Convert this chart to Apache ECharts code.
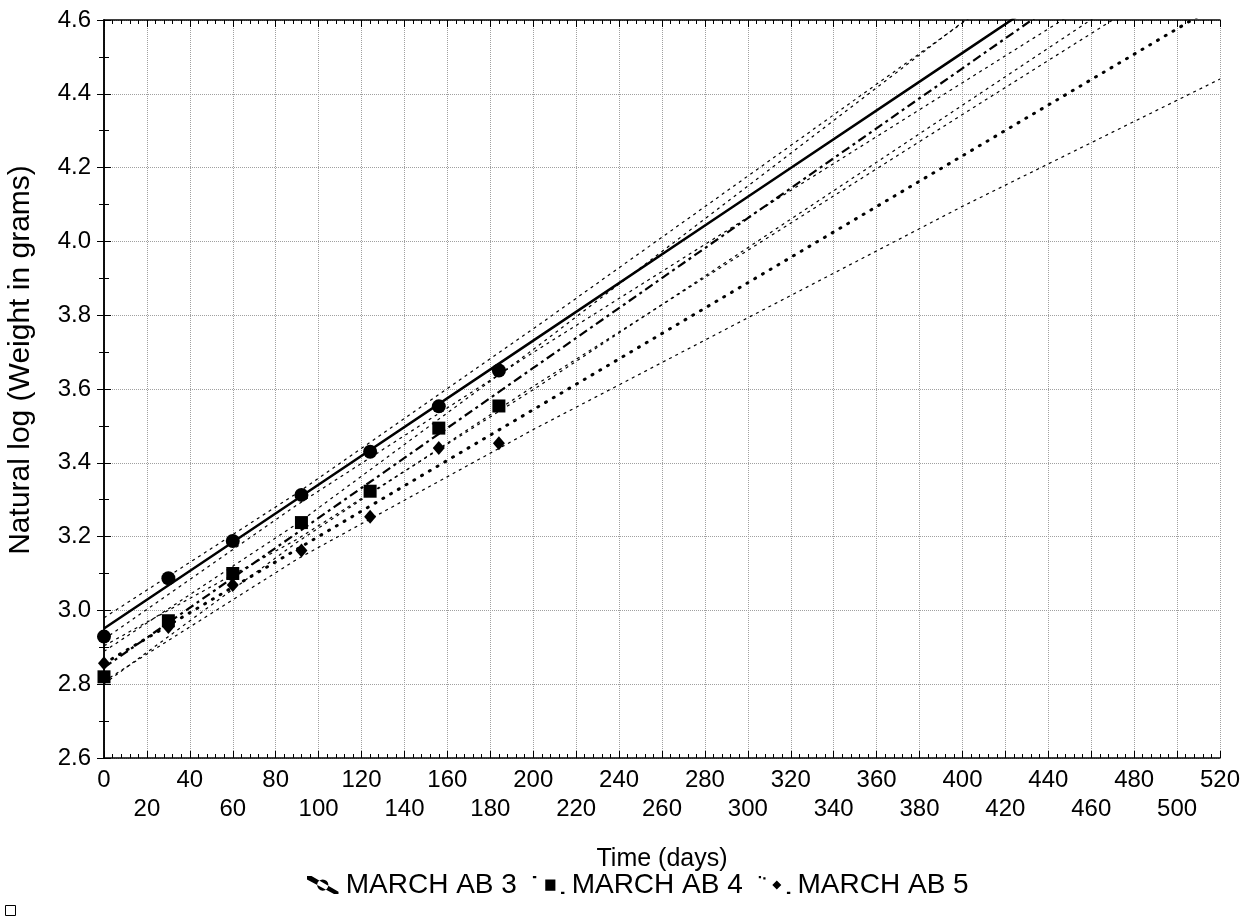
<!DOCTYPE html>
<html>
<head>
<meta charset="utf-8">
<script src="https://cdn.jsdelivr.net/npm/echarts@6/dist/echarts.min.js"></script>
<style>
html,body{margin:0;padding:0;background:#fff;}
#chart{width:1257px;height:922px;}
</style>
</head>
<body>
<div id="chart"></div>
<script>
// Sample days and observed ln(weight) per group
const days = [0, 30, 60, 92, 124, 156, 184];
const ab3 = [2.929, 3.087, 3.188, 3.313, 3.430, 3.553, 3.650];
const ab4 = [2.820, 2.972, 3.100, 3.238, 3.323, 3.494, 3.554];
const ab5 = [2.857, 2.955, 3.069, 3.162, 3.254, 3.440, 3.453];

// Fitted lines and confidence bands (read at these days)
const lineDays = [0, 90, 200, 300, 400, 520];
const fit3 = [2.951, 3.302, 3.731, 4.121, 4.511, 4.979];
const up3  = [2.980, 3.318, 3.763, 4.177, 4.592, 5.090];
const lo3  = [2.922, 3.286, 3.699, 4.065, 4.430, 4.868];
const fit4 = [2.845, 3.210, 3.657, 4.063, 4.469, 4.956];
const up4  = [2.889, 3.235, 3.707, 4.150, 4.594, 5.129];
const lo4  = [2.801, 3.185, 3.607, 3.976, 4.344, 4.783];
const fit5 = [2.856, 3.166, 3.544, 3.888, 4.232, 4.645];
const up5  = [2.904, 3.193, 3.598, 3.983, 4.369, 4.833];
const lo5  = [2.808, 3.139, 3.490, 3.793, 4.095, 4.440];

const names = ['MARCH AB 3', 'MARCH AB 4', 'MARCH AB 5'];
const xTitle = 'Time (days)';
const yTitle = 'Natural log (Weight in grams)';

const FONT = 'Liberation Sans, Arial, sans-serif';
const zip = (xs, ys) => xs.map((x, i) => [x, ys[i]]);

const chart = echarts.init(document.getElementById('chart'), null, {renderer: 'canvas'});

const axisLine = {show: true, lineStyle: {color: '#000', width: 1.5}};
const grid = {type: 'dotted', color: '#a0a0a0', width: 1};

function band(data) {
  return {type: 'line', data: data, symbol: 'none', silent: true, z: 3,
    lineStyle: {color: '#000', width: 1.2, type: [3, 4]}};
}

const option = {
  animation: false,
  backgroundColor: '#fff',
  grid: {left: 104, right: 37, top: 20, bottom: 164, containLabel: false, outerBoundsMode: 'none'},
  xAxis: [{
    type: 'value', min: 0, max: 520, interval: 20, position: 'bottom',
    name: xTitle, nameLocation: 'middle', nameGap: 89,
    nameTextStyle: {fontFamily: FONT, fontSize: 25, color: '#000'},
    axisLine: axisLine,
    axisTick: {show: true, inside: true, length: 7, lineStyle: {color: '#000', width: 1}},
    minorTick: {show: true, splitNumber: 5, length: 4, lineStyle: {color: '#000', width: 1}},
    splitLine: {show: true, lineStyle: grid},
    axisLabel: {
      fontFamily: FONT, fontSize: 24, color: '#000', margin: 8, lineHeight: 29,
      showMinLabel: true, showMaxLabel: true,
      formatter: v => (Math.round(v / 20) % 2 === 1 ? '\n' + v : '' + v)
    }
  }, {
    type: 'value', min: 0, max: 520, interval: 20, position: 'top',
    axisLine: axisLine,
    axisTick: {show: true, inside: true, length: 7, lineStyle: {color: '#000', width: 1}},
    minorTick: {show: true, splitNumber: 5, length: 4, lineStyle: {color: '#000', width: 1}},
    splitLine: {show: false}, axisLabel: {show: false}
  }],
  yAxis: [{
    type: 'value', min: 2.6, max: 4.6, interval: 0.2, position: 'left',
    name: yTitle, nameLocation: 'middle', nameGap: 68,
    nameTextStyle: {fontFamily: FONT, fontSize: 30, color: '#000', padding: [0, 0, 0, 58]},
    axisLine: axisLine,
    axisTick: {show: true, inside: true, length: 7, lineStyle: {color: '#000', width: 1}},
    minorTick: {show: true, splitNumber: 2, length: 5, lineStyle: {color: '#000', width: 1}},
    splitLine: {show: true, lineStyle: grid},
    axisLabel: {fontFamily: FONT, fontSize: 24, color: '#000', margin: 13,
      showMinLabel: true, showMaxLabel: true, formatter: v => v.toFixed(1)}
  }, {
    type: 'value', min: 2.6, max: 4.6, interval: 0.2, position: 'right',
    axisLine: axisLine,
    axisTick: {show: true, inside: true, length: 7, lineStyle: {color: '#000', width: 1}},
    minorTick: {show: true, splitNumber: 2, length: 5, lineStyle: {color: '#000', width: 1}},
    splitLine: {show: false}, axisLabel: {show: false}
  }],
  legend: {
    top: 866, left: 302, itemGap: 16, itemWidth: 36, itemHeight: 18,
    textStyle: {fontFamily: FONT, fontSize: 28, color: '#000'},
    data: [
      {name: names[0], icon: 'path://M0,0 L4,0 L28,14 L28,16 L24,16 L0,3 Z M9,8 A5,5 0 1,0 19,8 A5,5 0 1,0 9,8 Z'},
      {name: names[1], icon: 'path://M0,0 L3,0 L3,2 L0,2 Z M11,3 L20,3 L20,13 L11,13 Z M25,14 L28,14 L28,16 L25,16 Z'},
      {name: names[2], icon: 'path://M0,0 L2,0 L2,2 L0,2 Z M4,1 L6,1 L6,3 L4,3 Z M16,4 L20,8 L16,12 L12,8 Z M25,14 L28,14 L28,16 L25,16 Z'}
    ],
    itemStyle: {color: '#000', opacity: 1}
  },
  graphic: [{
    type: 'rect', left: 3, top: 903, shape: {width: 10, height: 10},
    style: {fill: 'none', stroke: '#000', lineWidth: 1}
  }],
  series: [
    band(zip(lineDays, up3)),
    band(zip(lineDays, lo3)),
    band(zip(lineDays, up4)),
    band(zip(lineDays, lo4)),
    band(zip(lineDays, up5)),
    band(zip(lineDays, lo5)),
    {type: 'line', data: zip(lineDays, fit3), symbol: 'none', silent: true, z: 4,
      lineStyle: {color: '#000', width: 2.5, type: 'solid'}},
    {type: 'line', data: zip(lineDays, fit4), symbol: 'none', silent: true, z: 4,
      lineStyle: {color: '#000', width: 2.2, type: [9, 4, 3, 4]}},
    {type: 'line', data: zip(lineDays, fit5), symbol: 'none', silent: true, z: 4,
      lineStyle: {color: '#000', width: 3, type: [1, 8], cap: 'round'}},
    {name: names[0], type: 'scatter', data: zip(days, ab3), symbol: 'circle', symbolSize: 14,
      itemStyle: {color: '#000', opacity: 1}, z: 6},
    {name: names[1], type: 'scatter', data: zip(days, ab4), symbol: 'rect', symbolSize: 13,
      itemStyle: {color: '#000', opacity: 1}, z: 6},
    {name: names[2], type: 'scatter', data: zip(days, ab5), symbol: 'diamond', symbolSize: [12, 14],
      itemStyle: {color: '#000', opacity: 1}, z: 6}
  ]
};
chart.setOption(option);
</script>
</body>
</html>
